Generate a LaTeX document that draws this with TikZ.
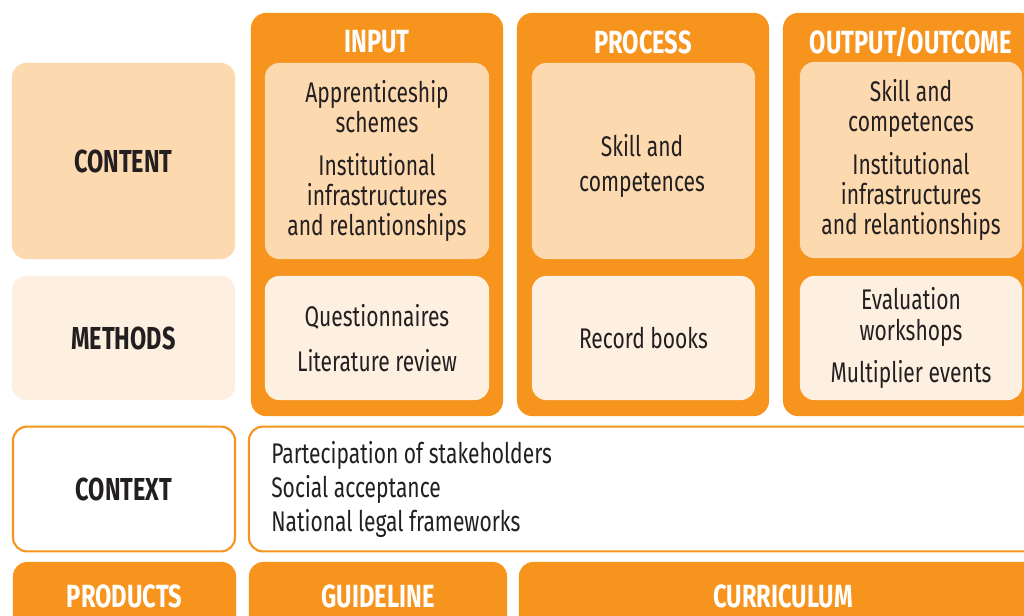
\documentclass[tikz,border=0pt]{standalone}
\usepackage{fontspec}
\setmainfont{Fira Sans}[FakeStretch=0.74]
\usetikzlibrary{positioning}
\definecolor{boxOrange}{HTML}{F7941E}
\definecolor{boxLight}{HTML}{FCD9AF}
\definecolor{boxPale}{HTML}{FDF0E0}
\definecolor{inkDark}{HTML}{231F20}
\tikzset{
  panel/.style={rounded corners=10pt, inner sep=0pt, text=inkDark, align=center,
    font=\fontsize{20.2}{21.5}\selectfont},
  rowhead/.style={panel, font=\fontsize{22.6}{24}\selectfont\bfseries},
  column/.style={rounded corners=11pt, fill=boxOrange, inner sep=0pt,
    minimum width=6.3cm, minimum height=10.08cm},
  colhead/.style={text=white, font=\fontsize{22.8}{24}\selectfont\bfseries},
  product/.style={rounded corners=10pt, fill=boxOrange, inner sep=0pt, text=white,
    minimum height=1.7cm, font=\fontsize{22.8}{24}\selectfont\bfseries},
}
\begin{document}
\begin{tikzpicture}[x=0.025cm, y=-0.025cm]
  \clip (0,0) rectangle (1024,616);
  \fill[white] (0,0) rectangle (1024,616);

  % row heads
  \node[rowhead, fill=boxLight, minimum width=5.575cm, minimum height=4.9cm] (content) at (123.5,161) {CONTENT};
  \node[rowhead, fill=boxPale, minimum width=5.575cm, minimum height=3.1cm] (methods) at (123.5,338) {METHODS};
  \node[rowhead, draw=boxOrange, line width=1.5pt, fill=white, minimum width=5.55cm, minimum height=3.12cm] (context) at (124,489) {CONTEXT};

  % columns
  \node[column] (input) at (377,214.5) {};
  \node[column] (process) at (643,214.5) {};
  \node[column] (output) at (909,214.5) {};
  \node[colhead] (inputhead) at (377,42) {INPUT};
  \node[colhead] (processhead) at (643,42) {PROCESS};
  \node[colhead] (outputhead) at (911,42) {OUTPUT/OUTCOME};

  % contents
  \node[panel, fill=boxLight, minimum width=5.6cm, minimum height=4.9cm] (inputcontent) at (377,161)
    {Apprenticeship\\schemes\\[0.32cm]Institutional\\infrastructures\\and relantionships};
  \node[panel, fill=boxLight, minimum width=5.575cm, minimum height=4.9cm] (processcontent) at (643.5,161) {};
  \node[panel, font=\fontsize{20.2}{25}\selectfont] (processtext) at (642,166) {Skill and\\competences};
  \node[panel, fill=boxLight, minimum width=5.55cm, minimum height=4.9cm] (outputcontent) at (911,160)
    {Skill and\\competences\\[0.32cm]Institutional\\infrastructures\\and relantionships};

  % methods
  \node[panel, fill=boxPale, minimum width=5.6cm, minimum height=3.1cm] (inputmethods) at (377,338)
    {Questionnaires\\[0.35cm]Literature review};
  \node[panel, fill=boxPale, minimum width=5.575cm, minimum height=3.1cm] (processmethods) at (643.5,338)
    {Record books};
  \node[panel, fill=boxPale, minimum width=5.55cm, minimum height=3.1cm] (outputmethods) at (911,338)
    {Evaluation\\workshops\\[0.3cm]Multiplier events};

  % context
  \node[panel, draw=boxOrange, line width=1.5pt, fill=white, minimum width=19.8cm, minimum height=3.12cm] (contextbox) at (645,489) {};
  \node[anchor=west, align=left, text=inkDark, inner sep=0pt, font=\fontsize{20.2}{24.2}\selectfont] (contextlist) at (271,489)
    {Partecipation of stakeholders\\Social acceptance\\National legal frameworks};

  % products
  \node[product, minimum width=5.575cm] (products) at (124.5,596) {PRODUCTS};
  \node[product, minimum width=6.45cm] (guideline) at (378,596) {GUIDELINE};
  \node[product, minimum width=13.2cm] (curriculum) at (783,596) {CURRICULUM};
\end{tikzpicture}
\end{document}
